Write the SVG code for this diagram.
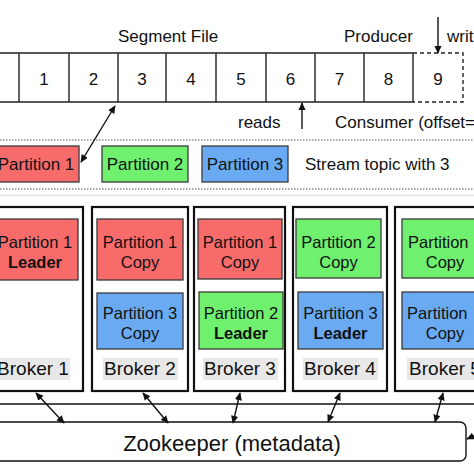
<svg xmlns="http://www.w3.org/2000/svg" width="474" height="474" viewBox="0 0 474 474">
<style>
text{font-family:"Liberation Sans",Arial,sans-serif;fill:#111}
.lbl{font-size:17px}
.num{font-size:17px;text-anchor:middle}
.pt{font-size:16.5px;text-anchor:middle}
.st{text-anchor:start}
.b{font-weight:bold}
.red{fill:#f86b6b;stroke:#3a3a3a;stroke-width:1.3}
.grn{fill:#6ff06f;stroke:#3a3a3a;stroke-width:1.3}
.blu{fill:#6aaaf2;stroke:#3a3a3a;stroke-width:1.3}
.broker{fill:#fff;stroke:#111;stroke-width:2.2}
.bl{fill:#e8e8e8}
.btxt{font-size:19px;text-anchor:middle}
.seg{stroke:#222;stroke-width:1.4;fill:none}
.dash{stroke:#222;stroke-width:1.4;fill:none;stroke-dasharray:4,3}
.dot{stroke:#555;stroke-width:1.2;stroke-dasharray:1.5,1.5;fill:none}
.ar{stroke:#111;stroke-width:1.4;fill:none}
</style>
<defs>
<marker id="ah" viewBox="0 0 10 10" refX="9" refY="5" markerWidth="8" markerHeight="8" orient="auto-start-reverse" markerUnits="userSpaceOnUse">
<path d="M0,0.5 L10,5 L0,9.5 z" fill="#111"/>
</marker>
</defs>
<rect width="474" height="474" fill="#fff"/>

<g id="segment-file">
<text class="lbl" x="118" y="42">Segment File</text>
<path class="seg" d="M0,53 H413 M0,102 H413 M19,53 V102 M69,53 V102 M118,53 V102 M166,53 V102 M216,53 V102 M266,53 V102 M315,53 V102 M364,53 V102 M413,53 V102"/>
<path class="dash" d="M413,53 H463 V102 H413"/>
<text class="num" x="44" y="85">1</text>
<text class="num" x="93.5" y="85">2</text>
<text class="num" x="142" y="85">3</text>
<text class="num" x="191" y="85">4</text>
<text class="num" x="241" y="85">5</text>
<text class="num" x="290.5" y="85">6</text>
<text class="num" x="339.5" y="85">7</text>
<text class="num" x="388.5" y="85">8</text>
<text class="num" x="438" y="85">9</text>
</g>

<g id="producer">
<text class="lbl" x="344" y="42">Producer</text>
<text class="lbl" x="447" y="42">writ</text>
</g>

<g id="consumer">
<text class="lbl" x="238" y="128">reads</text>
<text class="lbl" x="335" y="128">Consumer (offset=</text>
</g>

<g id="topic">
<path class="dot" d="M0,140 H474 M0,189 H474"/>
<path d="M0,195.5 H474" stroke="#e4e4e4" stroke-width="1.5"/>
<g id="topic-p1"><rect class="red" x="-7" y="146" width="86" height="36"/><text class="lbl" x="36" y="170" text-anchor="middle">Partition 1</text></g>
<g id="topic-p2"><rect class="grn" x="102" y="146" width="86" height="36"/><text class="lbl" x="145" y="170" text-anchor="middle">Partition 2</text></g>
<g id="topic-p3"><rect class="blu" x="202" y="146" width="86" height="36"/><text class="lbl" x="245" y="170" text-anchor="middle">Partition 3</text></g>
<text class="lbl" x="305" y="170">Stream topic with 3</text>
</g>

<g id="broker1">
<rect class="broker" x="-9" y="207" width="92" height="184"/>
<rect class="red" x="-8" y="219" width="86" height="61"/>
<text class="pt" x="35" y="248">Partition 1</text>
<text class="pt b" x="35" y="268">Leader</text>
<rect class="bl" x="-2" y="358" width="72" height="22"/>
<text class="btxt" x="33" y="375">Broker 1</text>
</g>

<g id="broker2">
<rect class="broker" x="92" y="207" width="96" height="184"/>
<rect class="red" x="97" y="219" width="86" height="61"/>
<text class="pt" x="140" y="248">Partition 1</text>
<text class="pt" x="140" y="268">Copy</text>
<rect class="blu" x="97" y="293" width="86" height="56"/>
<text class="pt" x="140" y="319">Partition 3</text>
<text class="pt" x="140" y="339">Copy</text>
<rect class="bl" x="103" y="358" width="75" height="22"/>
<text class="btxt" x="140" y="375">Broker 2</text>
</g>

<g id="broker3">
<rect class="broker" x="194" y="207" width="91" height="184"/>
<rect class="red" x="198" y="219" width="84" height="60"/>
<text class="pt" x="240" y="248">Partition 1</text>
<text class="pt" x="240" y="268">Copy</text>
<rect class="grn" x="199" y="292" width="84" height="57"/>
<text class="pt" x="241" y="319">Partition 2</text>
<text class="pt b" x="241" y="339">Leader</text>
<rect class="bl" x="203" y="358" width="75" height="22"/>
<text class="btxt" x="240" y="375">Broker 3</text>
</g>

<g id="broker4">
<rect class="broker" x="293" y="207" width="94" height="184"/>
<rect class="grn" x="296" y="219" width="85" height="59"/>
<text class="pt" x="338.5" y="248">Partition 2</text>
<text class="pt" x="338.5" y="268">Copy</text>
<rect class="blu" x="298" y="292" width="85" height="57"/>
<text class="pt" x="340.5" y="319">Partition 3</text>
<text class="pt b" x="340.5" y="339">Leader</text>
<rect class="bl" x="303" y="358" width="75" height="22"/>
<text class="btxt" x="340" y="375">Broker 4</text>
</g>

<g id="broker5">
<rect class="broker" x="395" y="207" width="94" height="184"/>
<rect class="grn" x="402" y="219" width="86" height="59"/>
<text class="pt st" x="408" y="248">Partition</text>
<text class="pt" x="445" y="268">Copy</text>
<rect class="blu" x="402" y="292" width="86" height="57"/>
<text class="pt st" x="407" y="319">Partition</text>
<text class="pt" x="445" y="339">Copy</text>
<rect class="bl" x="407" y="358" width="75" height="22"/>
<text class="btxt" x="445" y="375">Broker 5</text>
</g>

<g id="zookeeper">
<rect x="-10" y="422" width="476" height="39" rx="6" fill="#fff" stroke="#111" stroke-width="1.4"/>
<text x="232" y="451" font-size="22" text-anchor="middle">Zookeeper (metadata)</text>
</g>

<g id="connectors">
<path d="M0,404 H474" stroke="#111" stroke-width="1.4"/>
<line class="ar" x1="438" y1="17" x2="438" y2="53" marker-end="url(#ah)"/>
<line class="ar" x1="302" y1="129" x2="302" y2="103" marker-end="url(#ah)"/>
<line class="ar" x1="81" y1="162" x2="115" y2="106" marker-start="url(#ah)" marker-end="url(#ah)"/>
<line class="ar" x1="36" y1="393" x2="64" y2="423" marker-start="url(#ah)" marker-end="url(#ah)"/>
<line class="ar" x1="143" y1="393" x2="168" y2="423" marker-start="url(#ah)" marker-end="url(#ah)"/>
<line class="ar" x1="240" y1="393" x2="233" y2="423" marker-start="url(#ah)" marker-end="url(#ah)"/>
<line class="ar" x1="340" y1="393" x2="328" y2="422" marker-start="url(#ah)" marker-end="url(#ah)"/>
<line class="ar" x1="443" y1="393" x2="435" y2="422" marker-start="url(#ah)" marker-end="url(#ah)"/>
<line class="ar" x1="482" y1="432" x2="467" y2="439" marker-end="url(#ah)"/>
</g>
</svg>
